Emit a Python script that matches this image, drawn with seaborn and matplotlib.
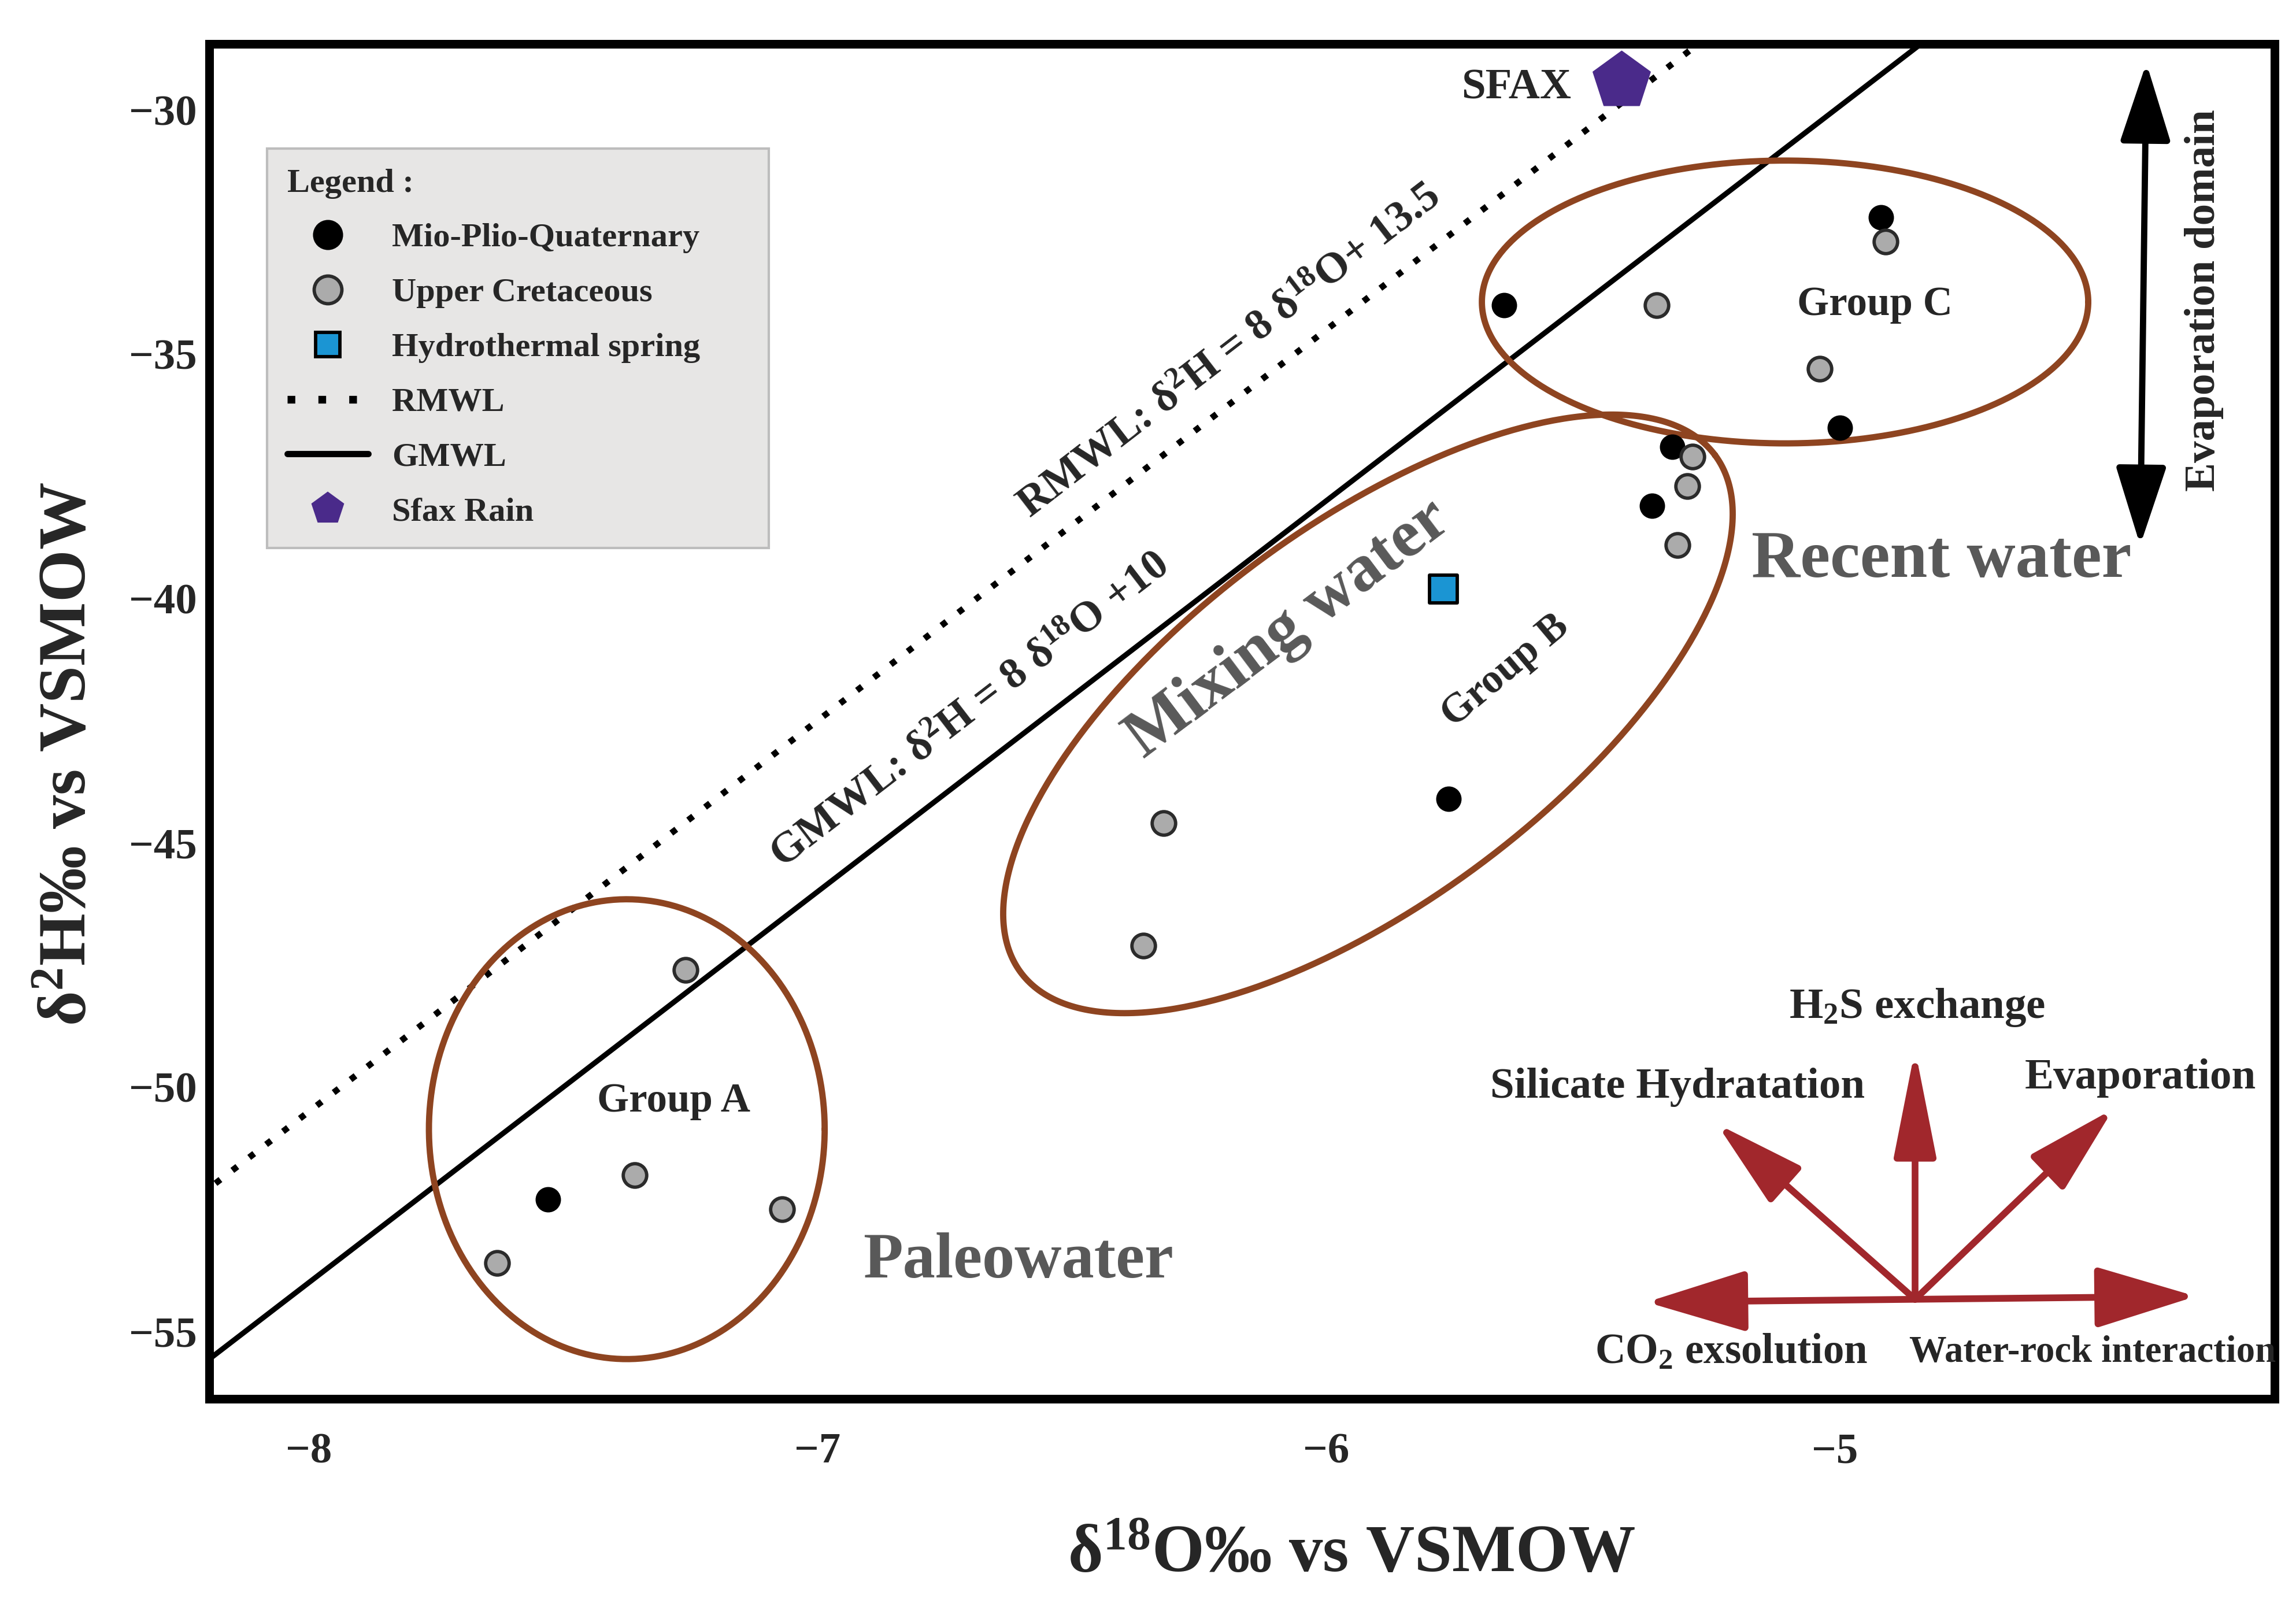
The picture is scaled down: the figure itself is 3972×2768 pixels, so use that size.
"""
Stable isotope plot (d18O vs d2H) of groundwater samples with the
global and regional meteoric water lines and the sample groups.
"""

import matplotlib.pyplot as plt
import numpy as np
import pandas as pd
import seaborn as sns
from matplotlib.lines import Line2D

# samples (per mil vs VSMOW)
mio_d18o = [-7.53, -5.65, -4.91, -4.99, -5.32, -5.36, -5.76]
mio_d2h = [-52.3, -34.0, -32.2, -36.5, -36.9, -38.1, -44.1]
cret_d18o = [-7.63, -7.36, -7.26, -7.07, -6.36, -6.32, -5.35, -4.90, -5.03, -5.28, -5.29, -5.31]
cret_d2h = [-53.6, -51.8, -47.6, -52.5, -47.1, -44.6, -34.0, -32.7, -35.3, -37.1, -37.7, -38.9]
spring_d18o = [-5.77]
spring_d2h = [-39.8]
rain_d18o = [-5.42]
rain_d2h = [-29.4]

# meteoric water lines (end points)
gmwl_x = [-8.25, -4.80]
gmwl_y = [-56.0, -28.4]
rmwl_x = [-8.25, -4.00]
rmwl_y = [-52.5, -18.5]

# sample groups: centre x, centre y, half axes (in d18O units), angle
group_names = ["A", "B", "C"]
group_cx = [-7.375, -5.918, -5.098]
group_cy = [-50.86, -42.36, -33.93]
group_a = [0.389, 0.851, 0.596]
group_b = [0.452, 0.369, 0.278]
group_angle = [0, 36.7, 0]

XLIM = (-8.196, -4.136)
YLIM = (-56.38, -28.65)
BROWN = "#8E4420"
ARROW_RED = "#A1272C"
GREY_TXT = "#595959"

sns.set_style("white")
plt.rcParams["font.family"] = ["Liberation Serif", "DejaVu Serif"]
plt.rcParams["font.weight"] = "bold"
plt.rcParams["axes.labelweight"] = "bold"
plt.rcParams["mathtext.fontset"] = "custom"
plt.rcParams["mathtext.rm"] = "Liberation Serif:bold"
plt.rcParams["mathtext.bf"] = "Liberation Serif:bold"
plt.rcParams["mathtext.it"] = "Liberation Serif:bold"
plt.rcParams["mathtext.default"] = "bf"

fig, ax = plt.subplots(figsize=(13.24, 9.2267), dpi=300)
ax.set_position([0.0911, 0.1257, 0.8995, 0.8468])
ax.set_xlim(*XLIM)
ax.set_ylim(*YLIM)

mio = pd.DataFrame({"d18O": mio_d18o, "d2H": mio_d2h})
cret = pd.DataFrame({"d18O": cret_d18o, "d2H": cret_d2h})
spring = pd.DataFrame({"d18O": spring_d18o, "d2H": spring_d2h})
rain = pd.DataFrame({"d18O": rain_d18o, "d2H": rain_d2h})

# water lines
ax.plot(gmwl_x, gmwl_y, color="black", lw=2.2, zorder=2)
ax.plot(rmwl_x, rmwl_y, color="black", lw=2.6, linestyle=(0, (1, 2.4)), zorder=2)

# group ellipses, drawn in pixel-like space so the rotation looks right
ax_w = ax.get_position().width * fig.get_figwidth()
ax_h = ax.get_position().height * fig.get_figheight()
ratio = (ax_w / (XLIM[1] - XLIM[0])) / (ax_h / (YLIM[1] - YLIM[0]))
t = np.linspace(0, 2 * np.pi, 400)
for cx, cy, a, b, ang in zip(group_cx, group_cy, group_a, group_b, group_angle):
    th = np.deg2rad(ang)
    ex = cx + a * np.cos(t) * np.cos(th) - b * np.sin(t) * np.sin(th)
    ey = cy + (a * np.cos(t) * np.sin(th) + b * np.sin(t) * np.cos(th)) * ratio
    ax.plot(ex, ey, color=BROWN, lw=2.6, zorder=3)

# samples
sns.scatterplot(data=mio, x="d18O", y="d2H", ax=ax, color="black", s=95,
                edgecolor="black", linewidth=0.8, zorder=5)
sns.scatterplot(data=cret, x="d18O", y="d2H", ax=ax, color="#ABABAB", s=95,
                edgecolor="#2B2B2B", linewidth=1.4, zorder=5)
sns.scatterplot(data=spring, x="d18O", y="d2H", ax=ax, color="#1B95D3", marker="s",
                s=130, edgecolor="black", linewidth=1.4, zorder=5)
sns.scatterplot(data=rain, x="d18O", y="d2H", ax=ax, color="#4A2A8A", marker="p",
                s=620, edgecolor="#4A2A8A", linewidth=0.5, zorder=6, clip_on=False)

# annotations in data coordinates
ax.text(-5.627, -29.55, "SFAX", fontsize=18, ha="center", va="center")
ax.text(-6.19, -34.95, "RMWL: δ$^{2}$H = 8 δ$^{18}$O+ 13.5", fontsize=18,
        rotation=37.6, ha="center", va="center")
ax.text(-6.70, -42.3, "GMWL: δ$^{2}$H = 8 δ$^{18}$O +10", fontsize=18,
        rotation=37.6, ha="center", va="center")
ax.text(-7.283, -50.29, "Group A", fontsize=17, ha="center", va="center")
ax.text(-5.648, -41.48, "Group B", fontsize=17, rotation=40, ha="center", va="center")
ax.text(-4.922, -33.99, "Group C", fontsize=17, ha="center", va="center")
ax.text(-6.074, -40.64, "Mixing water", fontsize=28, rotation=37, color=GREY_TXT,
        ha="center", va="center")
ax.text(-4.79, -39.23, "Recent water", fontsize=28, color=GREY_TXT, ha="center", va="center")
ax.text(-6.606, -53.58, "Paleowater", fontsize=27, color=GREY_TXT, ha="center", va="center")

# evaporation domain arrow
ax.annotate("", xy=(0.938, 0.986), xytext=(0.935, 0.630), xycoords="axes fraction",
            arrowprops=dict(arrowstyle="<|-|>,head_length=1.4,head_width=0.45",
                            mutation_scale=20, color="black", lw=2.6,
                            shrinkA=0, shrinkB=0))
ax.text(0.966, 0.811, "Evaporation domain", transform=ax.transAxes, fontsize=18,
        rotation=90, ha="center", va="center")

# process arrows
origin = (0.826, 0.0735)
ends = [(0.696, 0.0714), (0.962, 0.0757), (0.826, 0.258), (0.730, 0.203), (0.922, 0.214)]
heads = [(3.6, 1.1), (3.6, 1.1), (3.8, 0.75), (3.2, 0.85), (3.2, 0.85)]
for (ex, ey), (hl, hw) in zip(ends, heads):
    ax.annotate("", xy=(ex, ey), xytext=origin, xycoords="axes fraction",
                arrowprops=dict(arrowstyle=f"-|>,head_length={hl},head_width={hw}",
                                mutation_scale=10, color=ARROW_RED, lw=2.8,
                                shrinkA=0, shrinkB=0))

proc_text = ["H$_{2}$S exchange", "Silicate Hydratation", "Evaporation",
             "CO$_{2}$ exsolution", "Water-rock interaction"]
proc_pos = [(0.827, 0.289), (0.711, 0.230), (0.935, 0.237), (0.737, 0.034), (0.912, 0.034)]
proc_size = [18, 18, 18, 17.5, 15.5]
for txt, (px, py), fs in zip(proc_text, proc_pos, proc_size):
    ax.text(px, py, txt, transform=ax.transAxes, fontsize=fs, ha="center", va="center")

# legend
handles = [
    Line2D([], [], marker="o", linestyle="none", markerfacecolor="black",
           markeredgecolor="black", markersize=11.5),
    Line2D([], [], marker="o", linestyle="none", markerfacecolor="#ABABAB",
           markeredgecolor="#2B2B2B", markeredgewidth=1.4, markersize=11.5),
    Line2D([], [], marker="s", linestyle="none", markerfacecolor="#1B95D3",
           markeredgecolor="black", markeredgewidth=1.4, markersize=10),
    Line2D([], [], color="black", lw=3.2, linestyle=(0, (1, 3.0))),
    Line2D([], [], color="black", lw=2.6),
    Line2D([], [], marker="p", linestyle="none", markerfacecolor="#4A2A8A",
           markeredgecolor="#4A2A8A", markersize=13),
]
labels = ["Mio-Plio-Quaternary", "Upper Cretaceous", "Hydrothermal spring",
          "RMWL", "GMWL", "Sfax Rain"]
leg = ax.legend(handles, labels, title="Legend :", loc="upper left",
                bbox_to_anchor=(0.028, 0.632, 0.243, 0.291), mode="expand",
                borderaxespad=0, fontsize=14,
                title_fontproperties={"size": 14, "weight": "bold"},
                alignment="left", labelspacing=0.72, handlelength=2.4,
                handletextpad=0.7, borderpad=0.6, frameon=True, fancybox=False)
leg.get_frame().set_facecolor("#E7E6E5")
leg.get_frame().set_edgecolor("#BDBDBD")
leg.get_frame().set_linewidth(1.0)
leg.get_frame().set_alpha(1)

# axes styling
ax.set_xticks([-8, -7, -6, -5])
ax.set_yticks([-55, -50, -45, -40, -35, -30])
ax.set_xticklabels(["−8", "−7", "−6", "−5"])
ax.set_yticklabels(["−55", "−50", "−45", "−40", "−35", "−30"])
ax.tick_params(axis="both", labelsize=18, direction="out", width=2.2, color="black")
ax.tick_params(axis="x", length=8, pad=6)
ax.tick_params(axis="y", length=3, pad=2)
for spine in ax.spines.values():
    spine.set_visible(True)
    spine.set_color("black")
    spine.set_linewidth(3.6)

ax.set_xlabel("δ$^{18}$O‰ vs VSMOW", fontsize=28)
ax.set_ylabel("δ$^{2}$H‰ vs VSMOW", fontsize=28)
ax.xaxis.set_label_coords(0.553, -0.093)
ax.yaxis.set_label_coords(-0.053, 0.476)

fig.savefig("out.png", dpi=300)
